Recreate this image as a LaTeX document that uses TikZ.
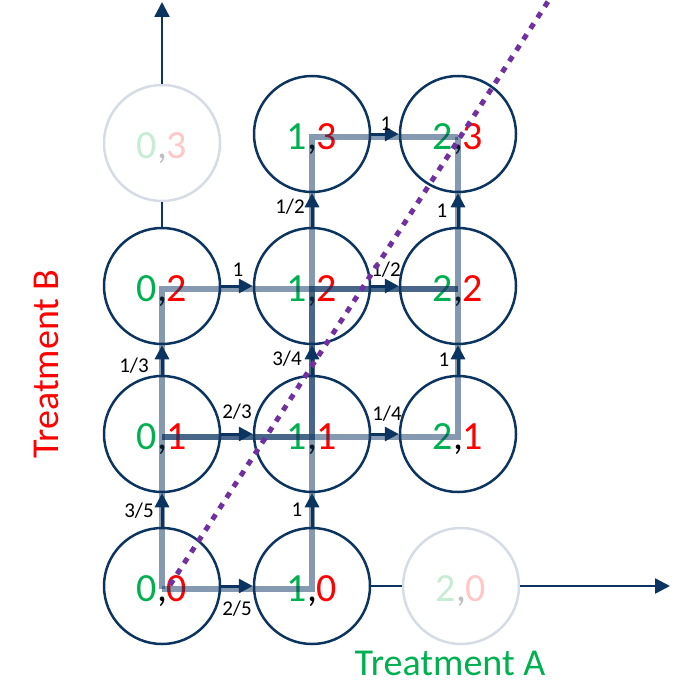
\documentclass[tikz,border=0pt]{standalone}
\usepackage{fontspec}
\setmainfont{Carlito}
\usetikzlibrary{arrows.meta}
\definecolor{navy}{RGB}{12,52,97}
\definecolor{tgreen}{RGB}{0,176,80}
\definecolor{tred}{RGB}{255,0,0}
\definecolor{purp}{RGB}{112,48,160}
\definecolor{ghostc}{RGB}{214,220,229}
\definecolor{ghostg}{RGB}{199,236,212}
\definecolor{ghostr}{RGB}{255,199,199}
\definecolor{ghostk}{RGB}{190,190,190}
\begin{document}
\begin{tikzpicture}[x=1pt,y=-1pt,
  state/.style={circle,draw=navy,line width=2.5pt,minimum size=116pt,inner sep=0pt},
  ghost/.style={circle,draw=ghostc,line width=2.5pt,minimum size=116pt,inner sep=0pt},
  lab/.style={font=\fontsize{40}{40}\selectfont,anchor=base,inner sep=0pt},
  arr/.style={draw=navy,line width=3pt,-{Triangle[length=14pt,width=14pt]}},
  ax/.style={draw=navy,line width=2.5pt},
  prob/.style={font=\fontsize{21}{21}\selectfont,inner sep=0pt},
  trail/.style={draw=navy,opacity=0.5,line width=6pt,line join=miter},
  axlab/.style={font=\fontsize{38}{38}\selectfont,anchor=base,inner sep=0pt,text depth=0pt}
  ]
\useasboundingbox (0,0) rectangle (680,685);

% states
\node[state] (n00) at (162,586) {};
\node[state] (n10) at (312,586) {};
\node[ghost] (n20) at (461,586) {};
\node[state] (n01) at (162,434) {};
\node[state] (n11) at (312,434) {};
\node[state] (n21) at (458,434) {};
\node[state] (n02) at (162,286) {};
\node[state] (n12) at (312,286) {};
\node[state] (n22) at (458,286) {};
\node[ghost] (n03) at (162,143) {};
\node[state] (n13) at (312,134) {};
\node[state] (n23) at (458,134) {};

% state texts
\node[lab] (t00) at (162,601) {\textcolor{tgreen}{0},\textcolor{tred}{0}};
\node[lab] (t10) at (312,601) {\textcolor{tgreen}{1},\textcolor{tred}{0}};
\node[lab] (t20) at (461,601) {\textcolor{ghostg}{2}\textcolor{ghostk}{,}\textcolor{ghostr}{0}};
\node[lab] (t01) at (162,449) {\textcolor{tgreen}{0},\textcolor{tred}{1}};
\node[lab] (t11) at (312,449) {\textcolor{tgreen}{1},\textcolor{tred}{1}};
\node[lab] (t21) at (458,449) {\textcolor{tgreen}{2},\textcolor{tred}{1}};
\node[lab] (t02) at (162,301) {\textcolor{tgreen}{0},\textcolor{tred}{2}};
\node[lab] (t12) at (312,301) {\textcolor{tgreen}{1},\textcolor{tred}{2}};
\node[lab] (t22) at (458,301) {\textcolor{tgreen}{2},\textcolor{tred}{2}};
\node[lab] (t03) at (162,158) {\textcolor{ghostg}{0}\textcolor{ghostk}{,}\textcolor{ghostr}{3}};
\node[lab] (t13) at (312,149) {\textcolor{tgreen}{1},\textcolor{tred}{3}};
\node[lab] (t23) at (458,149) {\textcolor{tgreen}{2},\textcolor{tred}{3}};

% axes
\coordinate (xend) at (670,586);
\coordinate (ytop) at (162,2);
\draw[ax] (n10) -- (n20);
\draw[ax,-{Triangle[length=15pt,width=15pt]}] (n20) -- (xend);
\draw[ax] (n02) -- (n03);
\draw[ax,-{Triangle[length=15pt,width=15pt]}] (n03) -- (ytop);

% transitions
\draw[arr] (n00) -- (n10);
\draw[arr] (n00) -- (n01);
\draw[arr] (n01) -- (n11);
\draw[arr] (n01) -- (n02);
\draw[arr] (n10) -- (n11);
\draw[arr] (n11) -- (n21);
\draw[arr] (n11) -- (n12);
\draw[arr] (n02) -- (n12);
\draw[arr] (n12) -- (n22);
\draw[arr] (n12) -- (n13);
\draw[arr] (n21) -- (n22);
\draw[arr] (n22) -- (n23);
\draw[arr] (n13) -- (n23);

% probability labels
\node[prob] (p1) at (237,609) {2/5};
\node[prob] (p2) at (139,511) {3/5};
\node[prob] (p3) at (237,412) {2/3};
\node[prob] (p4) at (134,366) {1/3};
\node[prob] (p5) at (297,510) {1};
\node[prob] (p6) at (387,414) {1/4};
\node[prob] (p7) at (287,359) {3/4};
\node[prob] (p8) at (238,270) {1};
\node[prob] (p9) at (386,270) {1/2};
\node[prob] (p10) at (290,207) {1/2};
\node[prob] (p11) at (444,360) {1};
\node[prob] (p12) at (442,211) {1};
\node[prob] (p13) at (386,124) {1};

% sample trails
\coordinate (g00) at (162,589);
\coordinate (g10) at (312,589);
\coordinate (g01) at (162,437);
\coordinate (g11) at (312,437);
\coordinate (g21) at (458,437);
\coordinate (g02) at (162,289);
\coordinate (g12) at (312,289);
\coordinate (g22) at (458,289);
\coordinate (g13) at (312,137);
\coordinate (g23) at (458,137);
\draw[trail] (g00) -- (g10) -- (g11) -- (g21) -- (g22) -- (g23);
\draw[trail] (g00) -- (g01) -- (g02) -- (g12) -- (g13) -- (g23);
\draw[trail] (g01) -- (g11) -- (g12) -- (g22);
\draw[trail,shift={(3,-5)}] (g01) -- (g11) -- (g12) -- (g22);

% diagonal boundary
\coordinate (d0) at (170,585);
\coordinate (d1) at (549,0);
\draw[purp,line width=5pt,dash pattern=on 6pt off 7pt] (d0) -- (d1);

% axis labels
\node[axlab,text=tgreen] (ta) at (450,675) {Treatment A};
\node[axlab,text=tred,rotate=90] (tb) at (58,364) {Treatment B};
\end{tikzpicture}
\end{document}
